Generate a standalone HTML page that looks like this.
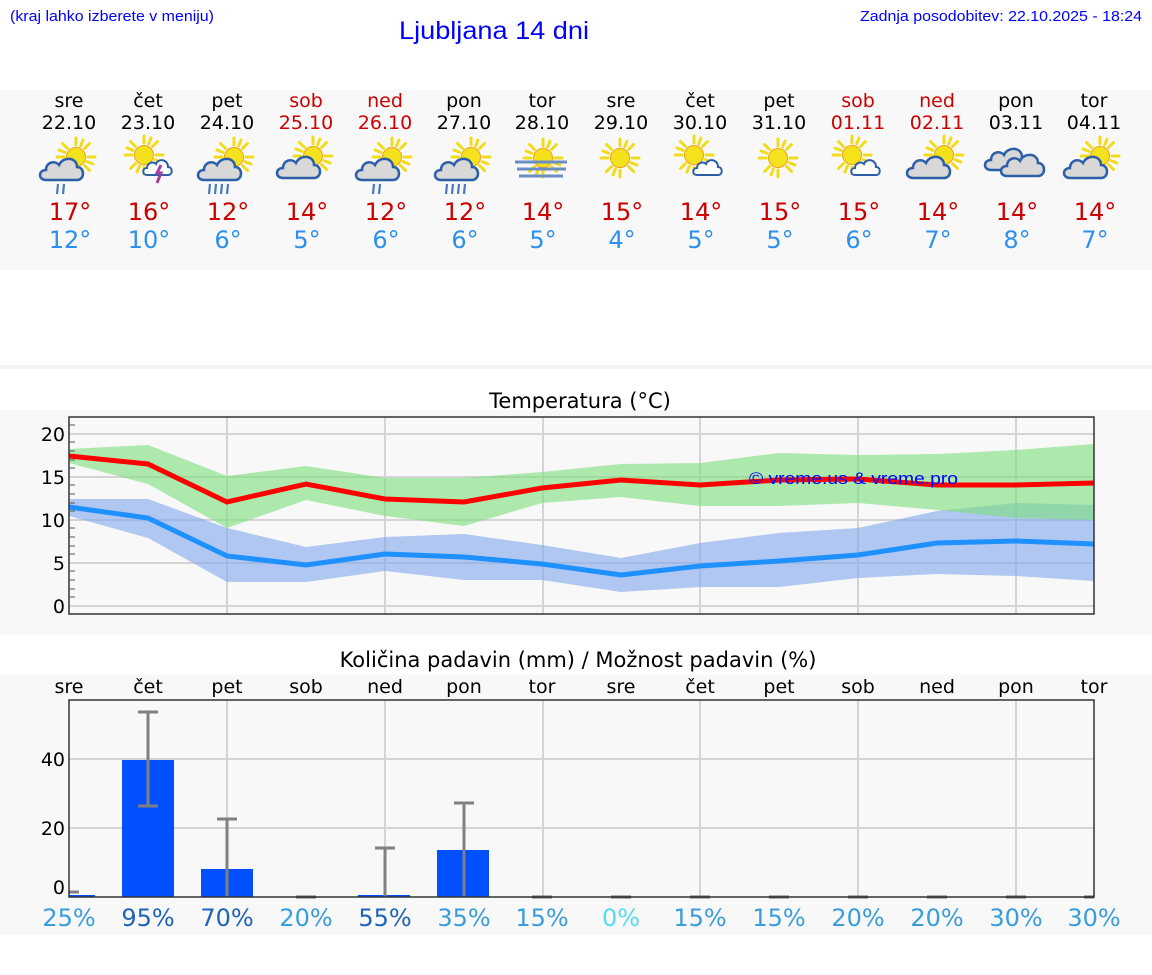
<!DOCTYPE html>
<html><head><meta charset="utf-8"><style>
html,body{margin:0;padding:0;background:#fff;}
svg{display:block;}
.d{font-family:"DejaVu Sans","Liberation Sans",sans-serif;}
</style></head><body>
<svg width="1152" height="975" viewBox="0 0 1152 975" xmlns="http://www.w3.org/2000/svg">
<defs>
<g id="sun"><g stroke="#f2dc1a" stroke-width="3" stroke-linecap="round">
<line x1="0" y1="-12" x2="0" y2="-19"/><line x1="0" y1="12" x2="0" y2="19"/><line x1="-12" y1="0" x2="-19" y2="0"/><line x1="12" y1="0" x2="19" y2="0"/>
<line x1="8.5" y1="-8.5" x2="13.5" y2="-13.5"/><line x1="-8.5" y1="-8.5" x2="-13.5" y2="-13.5"/><line x1="8.5" y1="8.5" x2="13.5" y2="13.5"/><line x1="-8.5" y1="8.5" x2="-13.5" y2="13.5"/>
<line x1="4.6" y1="-11" x2="7" y2="-17"/><line x1="-4.6" y1="11" x2="-7" y2="17"/><line x1="11" y1="4.6" x2="17" y2="7"/><line x1="-11" y1="-4.6" x2="-17" y2="-7"/></g>
<circle r="9.5" fill="#f4e21c" stroke="#f0a020" stroke-width="1"/></g>
<path id="cloud" d="M-17,10 C-25,10 -25,0 -17,0 C-17,-8 -8,-10 -4,-5 C0,-14 14,-13 14,-3 C22,-3 22,10 14,10 Z" fill="#d8d8d8" stroke="#2c5fa8" stroke-width="2.5"/>
<path id="wcloud" d="M-11,7 C-16,7 -16,0 -11,0 C-11,-5 -5,-7 -2,-4 C0,-10 10,-9 10,-1 C15,-1 15,7 10,7 Z" fill="#fff" stroke="#2c5fa8" stroke-width="2"/>
</defs>
<rect x="0" y="90" width="1152" height="180" fill="#f8f8f8"/>
<rect x="0" y="365" width="1152" height="4" fill="#f4f4f4"/>
<rect x="0" y="410" width="1152" height="225" fill="#f8f8f8"/>
<rect x="0" y="675" width="1152" height="260" fill="#f8f8f8"/>

<g font-family="Liberation Sans, sans-serif" fill="#0000ff">
<text x="10" y="21" font-size="15" textLength="204" lengthAdjust="spacingAndGlyphs">(kraj lahko izberete v meniju)</text>
<text x="399" y="39" font-size="25" textLength="190" lengthAdjust="spacingAndGlyphs">Ljubljana 14 dni</text>
<text x="1142" y="21" font-size="15" text-anchor="end" textLength="282" lengthAdjust="spacingAndGlyphs">Zadnja posodobitev: 22.10.2025 - 18:24</text>
</g>

<g class="d" font-size="19" text-anchor="middle" fill="#000">
<text x="69" y="107">sre</text><text x="148" y="107">čet</text><text x="227" y="107">pet</text><text x="306" y="107" fill="#cc0000">sob</text><text x="385" y="107" fill="#cc0000">ned</text><text x="464" y="107">pon</text><text x="542" y="107">tor</text><text x="621" y="107">sre</text><text x="700" y="107">čet</text><text x="779" y="107">pet</text><text x="858" y="107" fill="#cc0000">sob</text><text x="937" y="107" fill="#cc0000">ned</text><text x="1016" y="107">pon</text><text x="1094" y="107">tor</text>
<text x="69" y="129">22.10</text><text x="148" y="129">23.10</text><text x="227" y="129">24.10</text><text x="306" y="129" fill="#cc0000">25.10</text><text x="385" y="129" fill="#cc0000">26.10</text><text x="464" y="129">27.10</text><text x="542" y="129">28.10</text><text x="621" y="129">29.10</text><text x="700" y="129">30.10</text><text x="779" y="129">31.10</text><text x="858" y="129" fill="#cc0000">01.11</text><text x="937" y="129" fill="#cc0000">02.11</text><text x="1016" y="129">03.11</text><text x="1094" y="129">04.11</text>
</g>
<g class="d" font-size="24" text-anchor="middle" fill="#cc0000">
<text x="70" y="220">17°</text><text x="149" y="220">16°</text><text x="228" y="220">12°</text><text x="307" y="220">14°</text><text x="386" y="220">12°</text><text x="465" y="220">12°</text><text x="543" y="220">14°</text><text x="622" y="220">15°</text><text x="701" y="220">14°</text><text x="780" y="220">15°</text><text x="859" y="220">15°</text><text x="938" y="220">14°</text><text x="1017" y="220">14°</text><text x="1095" y="220">14°</text>
</g>
<g class="d" font-size="24" text-anchor="middle" fill="#2e90ee">
<text x="70" y="248">12°</text><text x="149" y="248">10°</text><text x="228" y="248">6°</text><text x="307" y="248">5°</text><text x="386" y="248">6°</text><text x="465" y="248">6°</text><text x="543" y="248">5°</text><text x="622" y="248">4°</text><text x="701" y="248">5°</text><text x="780" y="248">5°</text><text x="859" y="248">6°</text><text x="938" y="248">7°</text><text x="1017" y="248">8°</text><text x="1095" y="248">7°</text>
</g>

<!-- icons -->
<g stroke="#4a78c0" stroke-width="2.2">
<use href="#sun" x="76" y="157"/><use href="#cloud" x="63" y="170"/><line x1="58" y1="184" x2="57" y2="194"/><line x1="64" y1="184" x2="63" y2="194"/>
<use href="#sun" x="144" y="155"/><use href="#wcloud" x="158" y="168"/><path d="M161,165 l-4,8 h4 l-4,10" fill="none" stroke="#a040a0" stroke-width="3"/>
<use href="#sun" x="234" y="157"/><use href="#cloud" x="221" y="170"/><line x1="210" y1="184" x2="209" y2="194"/><line x1="216" y1="184" x2="215" y2="194"/><line x1="222" y1="184" x2="221" y2="194"/><line x1="228" y1="184" x2="227" y2="194"/>
<use href="#sun" x="313" y="156"/><use href="#cloud" x="300" y="168"/>
<use href="#sun" x="392" y="157"/><use href="#cloud" x="379" y="170"/><line x1="374" y1="184" x2="373" y2="194"/><line x1="380" y1="184" x2="379" y2="194"/>
<use href="#sun" x="471" y="157"/><use href="#cloud" x="458" y="170"/><line x1="447" y1="184" x2="446" y2="194"/><line x1="453" y1="184" x2="452" y2="194"/><line x1="459" y1="184" x2="458" y2="194"/><line x1="465" y1="184" x2="464" y2="194"/>
<use href="#sun" x="543" y="158"/>
<g stroke="#6c8cc4" stroke-width="3"><line x1="515" y1="162" x2="567" y2="162"/><line x1="517" y1="169" x2="566" y2="169"/><line x1="519" y1="176" x2="563" y2="176"/></g>
<use href="#sun" x="620" y="158"/>
<use href="#sun" x="694" y="155"/><use href="#wcloud" x="708" y="168"/>
<use href="#sun" x="778" y="158"/>
<use href="#sun" x="852" y="155"/><use href="#wcloud" x="866" y="168"/>
<use href="#sun" x="944" y="155"/><use href="#cloud" x="930" y="168"/>
<use href="#cloud" x="1008" y="160"/><use href="#cloud" x="1024" y="166"/>
<use href="#sun" x="1100" y="156"/><use href="#cloud" x="1087" y="168"/>
</g>

<!-- temperature chart -->
<text x="580" y="408" class="d" font-size="21" text-anchor="middle">Temperatura (°C)</text>
<g stroke="#d4d4d4" stroke-width="2">
<line x1="69" y1="434" x2="1094" y2="434"/><line x1="69" y1="477" x2="1094" y2="477"/><line x1="69" y1="520" x2="1094" y2="520"/><line x1="69" y1="563" x2="1094" y2="563"/><line x1="69" y1="606" x2="1094" y2="606"/>
<line x1="227" y1="417" x2="227" y2="614"/><line x1="385" y1="417" x2="385" y2="614"/><line x1="543" y1="417" x2="543" y2="614"/><line x1="700" y1="417" x2="700" y2="614"/><line x1="858" y1="417" x2="858" y2="614"/><line x1="1016" y1="417" x2="1016" y2="614"/>
</g>
<polygon fill="rgb(127,167,237)" fill-opacity="0.6" points="69,499 148,499 227,528 306,547 385,537 464,534 542,545 621,558 700,543 779,533 858,528 937,511 1016,503 1094,505 1094,581 1016,576 937,574 858,578 779,587 700,587 621,592 542,580 464,580 385,571 306,582 227,582 148,538 69,516"/>
<polygon fill="rgb(123,223,123)" fill-opacity="0.6" points="69,449 148,445 227,476 306,466 385,478 464,478 542,472 621,464 700,463 779,453 858,455 937,454 1016,450 1094,444 1094,520 1016,518 937,510 858,503 779,506 700,506 621,497 542,503 464,526 385,516 306,500 227,528 148,484 69,463"/>
<polyline fill="none" stroke="#ff0000" stroke-width="5" points="69,456 148,464 227,502 306,484 385,499 464,502 542,488 621,480 700,485 779,480 858,479 937,485 1016,485 1094,483"/>
<polyline fill="none" stroke="#1e90ff" stroke-width="5" points="69,507 148,518 227,556 306,565 385,554 464,557 542,564 621,575 700,566 779,561 858,555 937,543 1016,541 1094,544"/>
<text x="749" y="484" font-family="Liberation Sans, sans-serif" font-size="17" fill="#0000ff" textLength="209" lengthAdjust="spacingAndGlyphs">© vreme.us &amp; vreme.pro</text>
<rect x="69" y="417" width="1025" height="197" fill="none" stroke="#333" stroke-width="1.5"/>
<g stroke="#555" stroke-width="1">
<line x1="69" y1="425" x2="75" y2="425"/><line x1="69" y1="442" x2="75" y2="442"/><line x1="69" y1="451" x2="75" y2="451"/><line x1="69" y1="460" x2="75" y2="460"/><line x1="69" y1="468" x2="75" y2="468"/><line x1="69" y1="485" x2="75" y2="485"/><line x1="69" y1="494" x2="75" y2="494"/><line x1="69" y1="503" x2="75" y2="503"/><line x1="69" y1="511" x2="75" y2="511"/><line x1="69" y1="528" x2="75" y2="528"/><line x1="69" y1="537" x2="75" y2="537"/><line x1="69" y1="546" x2="75" y2="546"/><line x1="69" y1="554" x2="75" y2="554"/><line x1="69" y1="571" x2="75" y2="571"/><line x1="69" y1="580" x2="75" y2="580"/><line x1="69" y1="589" x2="75" y2="589"/><line x1="69" y1="597" x2="75" y2="597"/>
</g>
<g class="d" font-size="19" text-anchor="end" fill="#000">
<text x="65" y="441">20</text><text x="65" y="484">15</text><text x="65" y="527">10</text><text x="65" y="570">5</text><text x="65" y="613">0</text>
</g>

<!-- precipitation chart -->
<text x="578" y="667" class="d" font-size="21" text-anchor="middle">Količina padavin (mm) / Možnost padavin (%)</text>
<g class="d" font-size="19" text-anchor="middle" fill="#000">
<text x="69" y="693">sre</text><text x="148" y="693">čet</text><text x="227" y="693">pet</text><text x="306" y="693">sob</text><text x="385" y="693">ned</text><text x="464" y="693">pon</text><text x="542" y="693">tor</text><text x="621" y="693">sre</text><text x="700" y="693">čet</text><text x="779" y="693">pet</text><text x="858" y="693">sob</text><text x="937" y="693">ned</text><text x="1016" y="693">pon</text><text x="1094" y="693">tor</text>
</g>
<g stroke="#d4d4d4" stroke-width="2">
<line x1="69" y1="759" x2="1094" y2="759"/><line x1="69" y1="828" x2="1094" y2="828"/>
<line x1="227" y1="700" x2="227" y2="897"/><line x1="385" y1="700" x2="385" y2="897"/><line x1="543" y1="700" x2="543" y2="897"/><line x1="700" y1="700" x2="700" y2="897"/><line x1="858" y1="700" x2="858" y2="897"/><line x1="1016" y1="700" x2="1016" y2="897"/>
</g>
<g fill="#0050ff">
<rect x="69" y="895" width="26" height="2"/><rect x="122" y="760" width="52" height="137"/><rect x="201" y="869" width="52" height="28"/><rect x="358" y="895" width="52" height="2"/><rect x="437" y="850" width="52" height="47"/>
</g>
<g stroke="#808080" stroke-width="3">
<line x1="148" y1="712" x2="148" y2="806"/><line x1="138" y1="712" x2="158" y2="712"/><line x1="138" y1="806" x2="158" y2="806"/>
<line x1="227" y1="819" x2="227" y2="897"/><line x1="217" y1="819" x2="237" y2="819"/>
<line x1="385" y1="848" x2="385" y2="897"/><line x1="375" y1="848" x2="395" y2="848"/>
<line x1="464" y1="803" x2="464" y2="897"/><line x1="454" y1="803" x2="474" y2="803"/>
<line x1="69" y1="892" x2="79" y2="892"/>
<g stroke="#666"><line x1="296" y1="897" x2="316" y2="897"/><line x1="532" y1="897" x2="552" y2="897"/><line x1="611" y1="897" x2="631" y2="897"/><line x1="690" y1="897" x2="710" y2="897"/><line x1="769" y1="897" x2="789" y2="897"/><line x1="848" y1="897" x2="868" y2="897"/><line x1="927" y1="897" x2="947" y2="897"/><line x1="1006" y1="897" x2="1026" y2="897"/><line x1="1084" y1="897" x2="1094" y2="897"/></g>
</g>
<rect x="69" y="700" width="1025" height="197" fill="none" stroke="#333" stroke-width="1.5"/>
<g class="d" font-size="19" text-anchor="end" fill="#000">
<text x="65" y="766">40</text><text x="65" y="835">20</text><text x="65" y="894">0</text>
</g>
<g class="d" font-size="24" text-anchor="middle" fill="#3a9ddb">
<text x="69" y="926">25%</text><text x="148" y="926" fill="#1f63b8">95%</text><text x="227" y="926" fill="#1f63b8">70%</text><text x="306" y="926">20%</text><text x="385" y="926" fill="#1f63b8">55%</text><text x="464" y="926">35%</text><text x="542" y="926">15%</text><text x="621" y="926" fill="#55ddee">0%</text><text x="700" y="926">15%</text><text x="779" y="926">15%</text><text x="858" y="926">20%</text><text x="937" y="926">20%</text><text x="1016" y="926">30%</text><text x="1094" y="926">30%</text>
</g>
</svg>
</body></html>
